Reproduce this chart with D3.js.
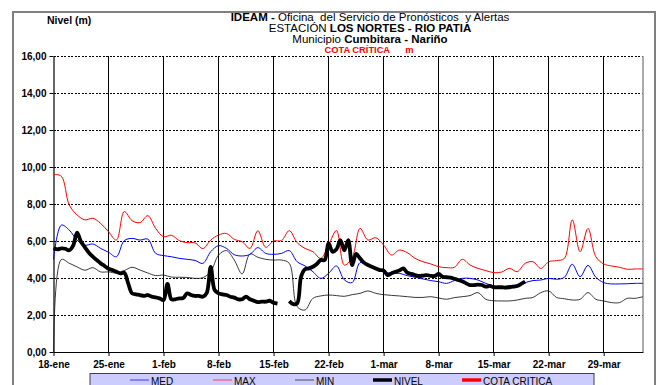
<!DOCTYPE html>
<html><head><meta charset="utf-8">
<script src="https://cdn.jsdelivr.net/npm/d3@7"></script>
<style>body{margin:0;background:#fff}svg{display:block}text{font-family:"Liberation Sans",Arial,sans-serif}</style>
</head><body><svg id="c" width="658" height="385"></svg>
<script>
// Tick labels (weekly, starting 18-ene)
const tickLabels = ["18-ene","25-ene","1-feb","8-feb","15-feb","22-feb","1-mar","8-mar","15-mar","22-mar","29-mar"];
const yTicks = [0,2,4,6,8,10,12,14,16];
// Daily series, day 0 = 18-ene
const maxSeries = [9.6,9.5,7.95,7.41,7.14,7.23,6.95,6.5,6.05,7.59,7.1,6.99,7.37,6.68,6.23,6.31,6.02,5.91,5.9,
 5.59,6.05,6.32,6.41,6.09,5.96,5.6,6.56,5.66,6.0,6.02,6.56,5.91,5.6,5.42,5.06,5.78,6.56,4.7,
 5.1,6.68,6.05,6.18,5.78,5.24,5.51,5.37,5.06,4.88,4.76,4.61,4.56,4.58,5.01,4.7,4.52,4.4,
 4.29,4.32,4.52,4.34,4.79,4.88,4.52,4.88,4.94,5.06,7.14,5.42,6.68,5.15,4.76,4.65,4.58,4.47,4.49,4.49];
const medSeries = [5.0,6.86,6.59,6.05,5.77,5.84,5.6,5.39,5.15,6.02,6.14,6.05,6.1,5.33,5.21,5.15,5.06,5.01,4.95,
 4.79,5.42,5.75,5.6,5.26,5.19,5.28,5.64,5.33,5.28,5.33,5.48,4.88,4.65,4.34,3.98,4.25,4.65,3.9,
 3.75,4.83,4.65,4.52,4.34,4.25,4.25,4.13,4.04,3.95,3.86,3.8,3.71,3.86,3.98,3.98,3.89,3.71,
 3.57,3.53,3.59,3.62,3.75,3.86,3.89,3.98,3.93,4.04,4.74,4.07,4.68,4.04,3.75,3.68,3.68,3.69,3.71,3.71];
const minSeries = [0,5.0,4.8,4.6,4.42,4.56,4.33,4.33,4.27,4.4,4.58,4.43,4.27,4.13,4.16,4.05,4.04,4.03,3.98,
 4.02,4.34,5.24,5.48,4.97,4.22,5.3,5.12,5.01,4.97,4.97,4.79,2.45,2.27,2.9,3.03,3.08,3.05,3.01,
 3.1,3.17,3.3,3.17,3.1,3.06,3.03,2.99,2.95,2.95,2.99,2.92,2.85,2.94,2.99,3.05,3.21,2.85,
 2.77,2.76,2.76,2.81,2.9,2.95,3.21,3.3,2.95,2.88,2.81,2.85,3.21,2.85,2.76,2.67,2.67,2.9,2.9,2.99];
// NIVEL, every half day from 18-ene (null = no data)
const nivelSeries = [5.6,5.55,5.6,5.58,5.5,5.75,6.45,5.96,5.66,5.37,5.15,4.97,4.79,4.65,4.5,4.43,4.34,4.25,4.29,3.71,
 3.17,3.12,3.08,3.03,3.08,2.99,2.95,2.9,2.81,3.68,2.85,2.85,2.9,2.92,3.17,3.08,3.03,3.03,2.99,3.2,
 4.6,3.35,3.17,3.12,3.08,2.99,2.94,2.85,2.85,2.99,2.85,2.77,2.7,2.72,2.72,2.77,2.67,2.62,null,null,
 2.75,2.59,2.63,4.07,4.47,4.52,4.61,4.76,4.97,4.97,5.87,5.42,5.55,6.05,5.5,6.05,4.7,5.3,5.06,4.83,
 4.7,4.61,4.52,4.43,4.4,4.16,4.25,4.34,4.4,4.52,4.29,4.22,4.16,4.11,4.13,4.16,4.11,4.11,4.22,4.07,
 4.04,4.02,3.96,3.89,3.82,3.71,3.62,3.62,3.64,3.62,3.53,3.57,3.5,3.5,3.5,3.48,3.5,3.53,3.57,3.68,3.8];
const legendNames = ["MED","MAX","MIN","NIVEL","COTA CRITICA"];
const titleLines = [
  [["IDEAM - ",true],["Oficina  del Servicio de Pronósticos  y Alertas",false]],
  [["ESTACIÓN ",false],["LOS NORTES - RIO PATIA",true]],
  [["Municipio ",false],["Cumbitara - Nariño",true]]
];

const svg = d3.select("#c");
const X0=53.5, X1=643, Y0=352, Y1=56;
const x = d3.scaleLinear().domain([0,75]).range([X0,X1]);
const y = d3.scaleLinear().domain([0,16]).range([Y0,Y1]);

// outer frame
svg.append("rect").attr("x",13).attr("y",12).attr("width",642).attr("height",390)
  .attr("fill","#fff").attr("stroke","#808080").attr("stroke-width",2);

// horizontal dashed grid
svg.append("g").selectAll("line").data(yTicks.slice(1)).join("line")
  .attr("x1",X0).attr("x2",X1).attr("y1",d=>y(d)).attr("y2",d=>y(d))
  .attr("stroke","#000").attr("stroke-width",1).attr("stroke-dasharray","2,1.5").attr("shape-rendering","crispEdges");
// vertical grid
const tickDays = tickLabels.map((_,i)=>i*7);
svg.append("g").selectAll("line").data(tickDays.slice(1)).join("line")
  .attr("x1",d=>x(d)).attr("x2",d=>x(d)).attr("y1",Y1).attr("y2",Y0)
  .attr("stroke","#000").attr("stroke-width",1).attr("shape-rendering","crispEdges");
svg.append("line").attr("x1",X1).attr("x2",X1).attr("y1",Y1).attr("y2",Y0).attr("stroke","#909090").attr("stroke-width",1.5);

// axes
const xAxis = d3.axisBottom(x).tickValues(tickDays).tickFormat((d,i)=>tickLabels[i]).tickSize(4).tickSizeOuter(0);
const gx = svg.append("g").attr("transform",`translate(0,${Y0})`).call(xAxis);
gx.select(".domain").attr("stroke","#000").attr("stroke-width",1.2);
gx.selectAll("text").attr("font-size",10).attr("font-weight","bold").attr("fill","#000").attr("dy","0.9em");
const yAxis = d3.axisLeft(y).tickValues(yTicks).tickFormat(d=>d3.format(".2f")(d).replace(".",",")).tickSize(4).tickSizeOuter(0);
const gy = svg.append("g").attr("transform",`translate(${X0},0)`).call(yAxis);
gy.select(".domain").attr("stroke","#000").attr("stroke-width",1.2);
gy.selectAll("text").attr("font-size",10).attr("font-weight","bold").attr("fill","#000");

// lines
const curve = d3.curveCatmullRom.alpha(0.5);
const dailyLine = d3.line().x((d,i)=>x(i)).y(d=>y(d)).curve(curve);
svg.append("path").attr("d",dailyLine(minSeries)).attr("fill","none").attr("stroke","#222").attr("stroke-width",0.9);
svg.append("path").attr("d",dailyLine(maxSeries)).attr("fill","none").attr("stroke","#ff0000").attr("stroke-width",1);
svg.append("path").attr("d",dailyLine(medSeries)).attr("fill","none").attr("stroke","#0000ff").attr("stroke-width",1);
const nivelLine = d3.line().defined(d=>d!==null).x((d,i)=>x(i/2)).y(d=>y(d)).curve(curve);
svg.append("path").attr("d",nivelLine(nivelSeries)).attr("fill","none").attr("stroke","#000")
  .attr("stroke-width",3.8).attr("stroke-linejoin","round");

// titles
svg.append("text").attr("x",47).attr("y",24).attr("font-size",10.5).attr("font-weight","bold").text("Nivel (m)");
titleLines.forEach((parts,i)=>{
  const t = svg.append("text").attr("x",370).attr("y",20.5+i*11.3).attr("text-anchor","middle").attr("font-size",11.5)
    .style("white-space","pre");
  parts.forEach(p=>t.append("tspan").attr("font-weight",p[1]?"bold":"normal").text(p[0]));
});
svg.append("text").attr("x",369).attr("y",52.5).attr("text-anchor","middle").attr("font-size",9.3)
  .attr("font-weight","bold").attr("fill","#ff0000").style("white-space","pre").text("COTA CRÍTICA      m");

// legend
svg.append("rect").attr("x",90).attr("y",373.5).attr("width",504).attr("height",20)
  .attr("fill","#ccccff").attr("stroke","#404040").attr("stroke-width",1);
const legColors = ["#6a6aff","#e8708a","#777788","#000","#ff0000"];
const legWidths = [1.5,1.5,1.5,3.5,3.5];
const legX = [130,213,295,373,462];
legendNames.forEach((n,i)=>{
  svg.append("line").attr("x1",legX[i]).attr("x2",legX[i]+19).attr("y1",380).attr("y2",380)
    .attr("stroke",legColors[i]).attr("stroke-width",legWidths[i]);
  svg.append("text").attr("x",legX[i]+21).attr("y",384.5).attr("font-size",10).attr("fill","#000").text(n);
});
</script></body></html>
